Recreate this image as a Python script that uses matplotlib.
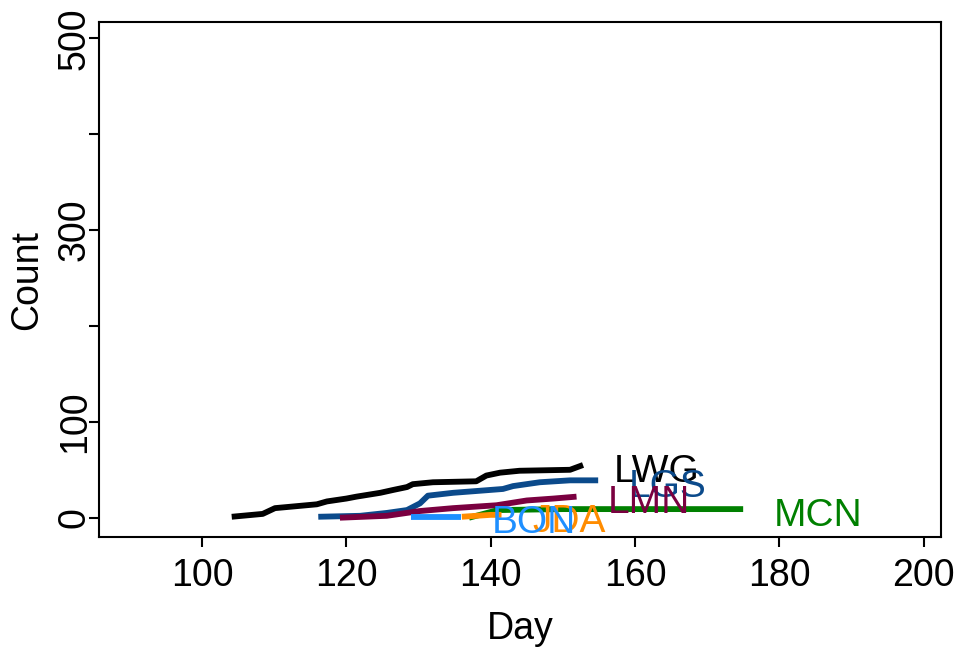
import numpy as np
import matplotlib
matplotlib.use('Agg')
import matplotlib.pyplot as plt

plt.rcParams['font.family'] = ['Liberation Sans', 'DejaVu Sans']

# cumulative counts per site
lwg_day = [104.1, 108.4, 110.1, 115.9, 117.3, 120.0, 121.4, 124.7, 126.5, 128.4, 129.2, 132.0, 138.0, 139.4, 141.3, 144.0, 151.0, 152.8]
lwg_cnt = [1, 4, 10, 14, 17, 20, 22, 26, 29, 32, 35, 37, 38, 44, 47, 49, 50, 55]

lgs_day = [116.1, 121.9, 125.6, 128.4, 130.2, 131.3, 134.8, 141.7, 143.1, 146.8, 151.0, 154.9]
lgs_cnt = [1, 2, 5, 8, 15, 23, 26, 30, 33, 37, 39, 39]

lmn_day = [119.1, 125.6, 130.2, 134.8, 140.8, 145.0, 148.7, 151.9]
lmn_cnt = [0, 2, 7, 10, 13, 18, 20, 22]

mcn_day = [137.0, 139.0, 141.0, 150.0, 160.0, 175.0]
mcn_cnt = [0, 4, 8, 9, 9, 9]

jda_day = [136.0, 138.0, 140.0, 141.5]
jda_cnt = [1, 2, 3, 3]

bon_day = [129.0, 132.0, 135.9]
bon_cnt = [1, 1, 1]

sites = ['LWG', 'LGS', 'LMN', 'MCN', 'JDA', 'BON']
days = [lwg_day, lgs_day, lmn_day, mcn_day, jda_day, bon_day]
counts = [lwg_cnt, lgs_cnt, lmn_cnt, mcn_cnt, jda_cnt, bon_cnt]
colors = ['black', '#0b4a8b', '#7a0040', '#008000', '#ff8c00', '#1e8fff']

fig = plt.figure(figsize=(9.61, 6.5), dpi=100)
ax = fig.add_axes([0.103, 0.174, 0.876, 0.792])

for name, d, c, col in zip(sites, days, counts, colors):
    ax.plot(d, c, color=col, lw=4.2, solid_capstyle='butt', solid_joinstyle='round')
    ax.text(d[-1] + 4.3, c[-1] - 7, name, color=col, fontsize=28, ha='left', va='center')

ax.set_xlim(85.7, 202.4)
ax.set_ylim(-20, 517)
ax.set_xticks([100, 120, 140, 160, 180, 200])
ax.set_yticks([0, 100, 200, 300, 400, 500])
ax.set_yticklabels(['0', '100', '', '300', '', '500'], rotation=90, va='center')

for s in ax.spines.values():
    s.set_linewidth(1.5)
ax.tick_params(axis='both', direction='out', length=7.5, width=1.5, labelsize=27)
ax.tick_params(axis='x', pad=8)
ax.tick_params(axis='y', pad=-3)

ax.set_xlabel('Day', fontsize=27, labelpad=12)
ax.set_ylabel('Count', fontsize=27, labelpad=8)

fig.savefig('out.png', dpi=100)
